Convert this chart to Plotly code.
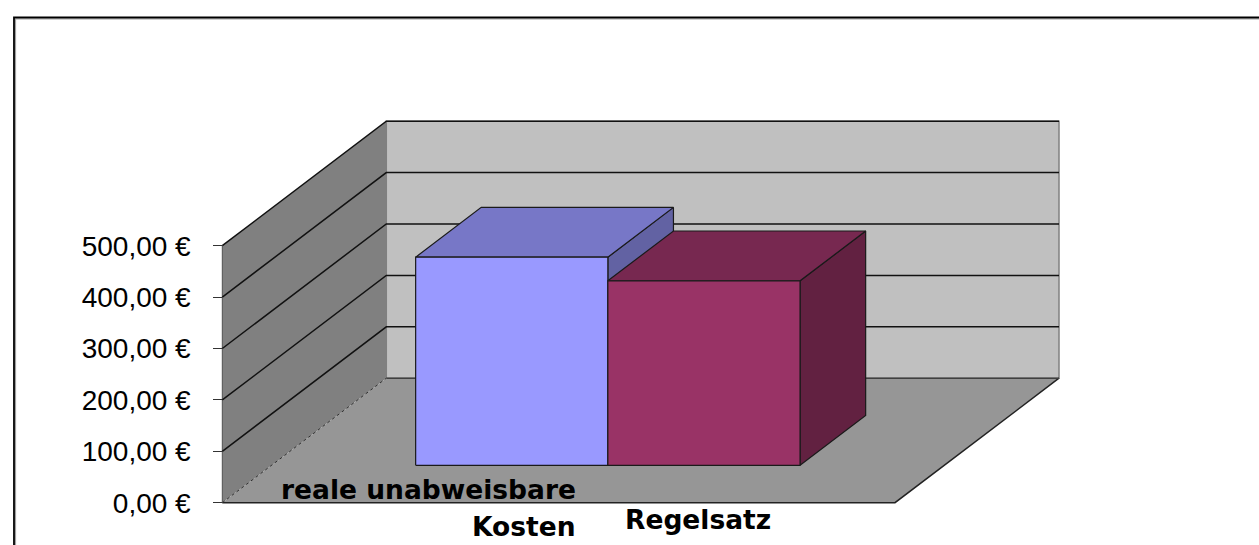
import plotly.graph_objects as go

# ---------------- data ----------------
categories = ["reale unabweisbare<br>Kosten", "Regelsatz"]
values = [405, 359]
tick_values = [0, 100, 200, 300, 400, 500]
tick_labels = ["0,00 €", "100,00 €", "200,00 €", "300,00 €", "400,00 €", "500,00 €"]
front_colors = ["#9999FF", "#993366"]
top_colors = ["#7777C7", "#772850"]
side_colors = ["#6262A3", "#622141"]

# ---------------- geometry / style ----------------
W, H = 1259, 545
ORIGIN_PX = (222.3, 502.7)      # front-left-bottom corner of the 3D box
PX_PER_CAT = 672.7              # pixels per unit on the front plane
PX_PER_VAL = 0.514              # pixels per euro
DEPTH_PX = (164.0, 124.5)       # oblique offset of the full depth
PLOT_L, PLOT_R, PLOT_T, PLOT_B = 200, 1090, 100, 512
GAP_WIDTH = 1.5                 # Excel gap width
DEPTH_FRONT, DEPTH_BACK = 0.3, 0.7

DX = DEPTH_PX[0] / PX_PER_CAT
DY = DEPTH_PX[1] / PX_PER_VAL
VMAX = tick_values[-1]


def px_x(px):
    return (px - ORIGIN_PX[0]) / PX_PER_CAT


def px_y(py):
    return (ORIGIN_PX[1] - py) / PX_PER_VAL


def paper_x(px):
    return (px - PLOT_L) / (PLOT_R - PLOT_L)


def paper_y(py):
    return (PLOT_B - py) / (PLOT_B - PLOT_T)


def proj(x, v, d):
    return (x + d * DX, v + d * DY)


fig = go.Figure()


def poly(pts, fill, line_color=None, line_width=0, closed=True, dash=None):
    xs = [p[0] for p in pts]
    ys = [p[1] for p in pts]
    if closed:
        xs.append(pts[0][0])
        ys.append(pts[0][1])
    line = dict(color=line_color or "rgba(0,0,0,0)", width=line_width)
    if dash:
        line["dash"] = dash
    fig.add_trace(go.Scatter(
        x=xs, y=ys, mode="lines",
        fill="toself" if fill else "none",
        fillcolor=fill,
        line=line, hoverinfo="skip", showlegend=False,
    ))


# walls and floor
poly([proj(0, 0, 0), proj(0, VMAX, 0), proj(0, VMAX, 1), proj(0, 0, 1)], "#808080")
poly([proj(0, 0, 1), proj(1, 0, 1), proj(1, VMAX, 1), proj(0, VMAX, 1)], "#C0C0C0", "#808080", 1.5)
poly([proj(0, 0, 0), proj(1, 0, 0), proj(1, 0, 1), proj(0, 0, 1)], "#969696")
# floor edges
poly([proj(0, 0, 0), proj(1, 0, 0), proj(1, 0, 1)], None, "#222222", 1.5, closed=False)
# left wall front edge
poly([proj(0, 0, 0), proj(0, VMAX, 0)], None, "#505050", 1, closed=False)

# gridlines
for v in tick_values:
    if v == 0:
        poly([proj(0, v, 0), proj(0, v, 1)], None, "#303030", 1, closed=False, dash="3px,3px")
        poly([proj(0, v, 1), proj(1, v, 1)], None, "#404040", 1.5, closed=False)
    else:
        poly([proj(0, v, 0), proj(0, v, 1), proj(1, v, 1)], None, "#111111", 1.5, closed=False)

# bars
n = len(values)
bw = 1.0 / (n + GAP_WIDTH)
for i, val in enumerate(values):
    xl = GAP_WIDTH / 2 * bw + i * bw
    xr = xl + bw
    d0, d1 = DEPTH_FRONT, DEPTH_BACK
    edge = "#1a1a1a"
    poly([proj(xr, 0, d0), proj(xr, 0, d1), proj(xr, val, d1), proj(xr, val, d0)],
         side_colors[i], edge, 1.2)
    poly([proj(xl, val, d0), proj(xr, val, d0), proj(xr, val, d1), proj(xl, val, d1)],
         top_colors[i], edge, 1.2)
    poly([proj(xl, 0, d0), proj(xr, 0, d0), proj(xr, val, d0), proj(xl, val, d0)],
         front_colors[i], edge, 1.2)

# category labels
label_font = dict(family="DejaVu Sans", size=26.5, color="#000000")
label_anchor = [(578, "right"), (697.5, "center")]
label_baselines = [[498.3, 536.0], [528.3]]
annotations = []
for cat, (ax_px, anchor), bases in zip(categories, label_anchor, label_baselines):
    for line_txt, base in zip(cat.split("<br>"), bases):
        annotations.append(dict(
            x=paper_x(ax_px), y=paper_y(base - 0.346 * label_font["size"]),
            xref="paper", yref="paper", text="<b>" + line_txt + "</b>",
            showarrow=False, xanchor=anchor, yanchor="middle",
            font=label_font,
        ))

# chart-area border (left + top)
shapes = [
    dict(type="path", xref="paper", yref="paper",
         path=f"M {paper_x(15.5)},{paper_y(560)} L {paper_x(15.5)},{paper_y(19)} L {paper_x(1270)},{paper_y(19)}",
         line=dict(color="#A0A0A0", width=1.2)),
    dict(type="path", xref="paper", yref="paper",
         path=f"M {paper_x(14)},{paper_y(560)} L {paper_x(14)},{paper_y(17.5)} L {paper_x(1270)},{paper_y(17.5)}",
         line=dict(color="#000000", width=1.8)),
]

fig.update_layout(
    width=W, height=H,
    margin=dict(l=PLOT_L, r=W - PLOT_R, t=PLOT_T, b=H - PLOT_B, pad=0),
    paper_bgcolor="white", plot_bgcolor="white",
    showlegend=False,
    xaxis=dict(range=[px_x(PLOT_L), px_x(PLOT_R)], visible=False, fixedrange=True),
    yaxis=dict(
        range=[px_y(PLOT_B), px_y(PLOT_T)],
        anchor="free", position=paper_x(ORIGIN_PX[0]),
        tickmode="array", tickvals=tick_values, ticktext=tick_labels,
        ticks="outside", ticklen=9, tickwidth=1, tickcolor="#333333",
        ticklabelstandoff=17,
        tickfont=dict(family="Liberation Sans, Arial", size=28, color="#000000"),
        showgrid=False, zeroline=False, showline=False, fixedrange=True,
        automargin=False,
    ),
    annotations=annotations,
    shapes=shapes,
)

fig.write_html("out.html", config={"displayModeBar": False},
               post_script="document.body.style.margin='0';")
